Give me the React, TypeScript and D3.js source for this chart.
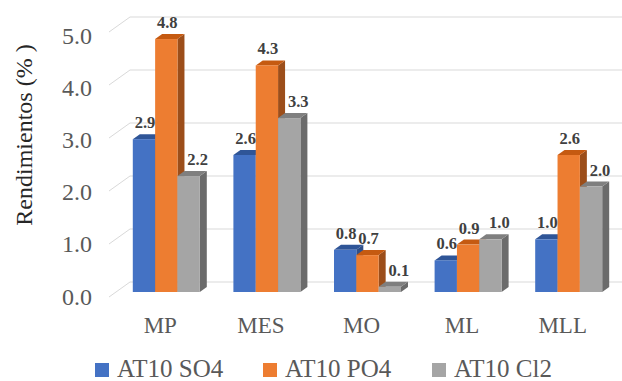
import React from "react";
import * as d3 from "d3";

const categories = ["MP", "MES", "MO", "ML", "MLL"];
const seriesNames = ["AT10 SO4", "AT10 PO4", "AT10 Cl2"];
const so4 = [2.9, 2.6, 0.8, 0.6, 1.0];
const po4 = [4.8, 4.3, 0.7, 0.9, 2.6];
const cl2 = [2.2, 3.3, 0.1, 1.0, 2.0];
const yTicks = [0, 1, 2, 3, 4, 5];

const seriesValues = [so4, po4, cl2];
const faceColors = [
  { front: "#4472C4", top: "#2F5597", side: "#2E4F8A" },
  { front: "#ED7D31", top: "#C55A11", side: "#9C4E1A" },
  { front: "#A5A5A5", top: "#7F7F7F", side: "#6B6B6B" },
];
const labelDx = [0, 0, 8];

const W = 622;
const H = 381;
const SERIF = "'Liberation Serif', 'Times New Roman', 'DejaVu Serif', serif";

export default function App() {
  const xBand = d3.scaleBand<string>().domain(categories).range([109, 612]).padding(0);
  const yFront = d3.scaleLinear().domain([0, 5]).range([297, 32]);
  const backDx = 21;
  const backDy = -15;
  const barDx = 7;
  const depthDx = 7;
  const depthDy = -5;
  const yBar = d3.scaleLinear().domain([0, 5]).range([292, 292 - 5 * 52.7]);
  const groupW = 67;
  const xInner = d3.scaleBand<string>().domain(seriesNames).range([0, groupW]).padding(0);
  const yLabel = d3.scaleLinear().domain([0, 5]).range([304.5, 44]);

  const grid = yTicks.map((t) => {
    const yf = yFront(t);
    const x0 = xBand.range()[0];
    return (
      <g key={"g" + t}>
        <line x1={x0} y1={yf} x2={x0 + backDx} y2={yf + backDy} stroke="#D9D9D9" strokeWidth={1} />
        <line x1={x0 + backDx} y1={yf + backDy} x2={W + 5} y2={yf + backDy} stroke="#D9D9D9" strokeWidth={1} />
      </g>
    );
  });

  const bars: React.ReactNode[] = [];
  const labels: React.ReactNode[] = [];
  categories.forEach((c, ci) => {
    const center = (xBand(c) as number) + xBand.bandwidth() / 2 + barDx;
    const gx = center - groupW / 2;
    seriesNames.forEach((s, si) => {
      const v = seriesValues[si][ci];
      const x0 = gx + (xInner(s) as number);
      const x1 = x0 + xInner.bandwidth();
      const yb = yBar(0);
      const yt = yBar(v);
      const col = faceColors[si];
      const top = `${x0},${yt} ${x1},${yt} ${x1 + depthDx},${yt + depthDy} ${x0 + depthDx},${yt + depthDy}`;
      const side = `${x1},${yt} ${x1 + depthDx},${yt + depthDy} ${x1 + depthDx},${yb + depthDy} ${x1},${yb}`;
      bars.push(
        <g key={`b${ci}-${si}`}>
          <polygon points={side} fill={col.side} />
          <polygon points={top} fill={col.top} />
          <rect x={x0} y={yt} width={x1 - x0} height={yb - yt} fill={col.front} />
        </g>
      );
      labels.push(
        <text
          key={`l${ci}-${si}`}
          x={(x0 + x1) / 2 + 1 + labelDx[si]}
          y={yt - 11}
          textAnchor="middle"
          style={{ fontFamily: SERIF, fontWeight: 700, fontSize: "16.5px" }}
          fill="#404040"
        >
          {v.toFixed(1)}
        </text>
      );
    });
  });

  const legendX = [95, 263, 432];

  return (
    <svg
      width={W}
      height={H}
      style={{ position: "absolute", left: 0, top: 0, background: "#fff", fontFamily: SERIF }}
    >
      <rect x={0} y={0} width={W} height={H} fill="#fff" />
      {grid}
      {bars}
      {labels}
      {yTicks.map((t) => (
        <text
          key={"t" + t}
          x={92}
          y={yLabel(t)}
          textAnchor="end"
          style={{ fontFamily: SERIF, fontSize: "24px" }}
          fill="#595959"
        >
          {t.toFixed(1)}
        </text>
      ))}
      <text
        transform={`translate(${32},${135}) rotate(-90)`}
        textAnchor="middle"
        style={{ fontFamily: SERIF, fontSize: "24px" }}
        fill="#262626"
      >
        Rendimientos (% )
      </text>
      {categories.map((c) => (
        <text
          key={"c" + c}
          x={(xBand(c) as number) + xBand.bandwidth() / 2 + 1}
          y={333}
          textAnchor="middle"
          style={{ fontFamily: SERIF, fontSize: "23px" }}
          fill="#595959"
        >
          {c}
        </text>
      ))}
      {seriesNames.map((s, si) => (
        <g key={"lg" + s}>
          <rect x={legendX[si]} y={363} width={14} height={14} fill={faceColors[si].front} />
          <text
            x={legendX[si] + 22}
            y={377}
            style={{ fontFamily: SERIF, fontSize: "25px" }}
            fill="#595959"
          >
            {s}
          </text>
        </g>
      ))}
    </svg>
  );
}
